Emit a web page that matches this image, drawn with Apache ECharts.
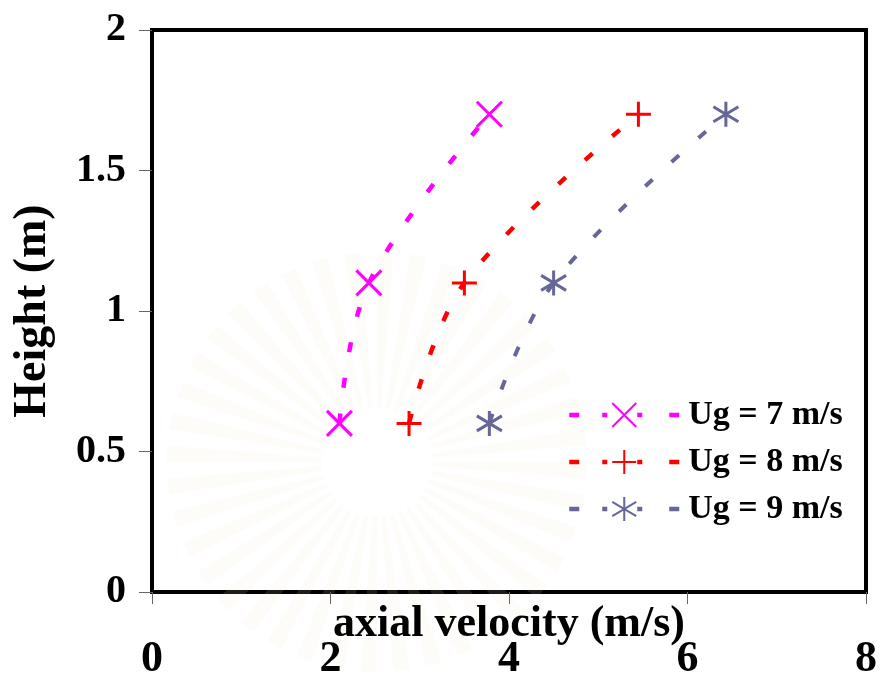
<!DOCTYPE html>
<html>
<head>
<meta charset="utf-8">
<script src="https://cdn.jsdelivr.net/npm/echarts@6/dist/echarts.min.js"></script>
<style>
  html, body { margin: 0; padding: 0; background: #fff; }
  #chart { width: 883px; height: 677px; }
</style>
</head>
<body>
<div id="chart"></div>
<script>
// Measured heights (m) and axial velocities (m/s) for each gas velocity
const heights = [0.6, 1.1, 1.7];
const velocityUg7 = [2.1, 2.43, 3.78];
const velocityUg8 = [2.88, 3.5, 5.45];
const velocityUg9 = [3.78, 4.5, 6.43];
const seriesNames = ['Ug = 7 m/s', 'Ug = 8 m/s', 'Ug = 9 m/s'];
const xTicks = [0, 2, 4, 6, 8];
const yTicks = [0, 0.5, 1, 1.5, 2];

const FONT = '"Liberation Serif", "Times New Roman", serif';

const SYM_X = 'path://M0,0L10,10M10,0L0,10';
const SYM_PLUS = 'path://M5,0L5,10M0,5L10,5';
const SYM_STAR = 'path://M5,0L5,10M0.7,2L9.3,8M9.3,2L0.7,8';

function pairs(xs) {
  return xs.map((v, i) => [v, heights[i]]);
}

function makeSeries(name, xs, color, symbol, width) {
  return {
    name: name,
    type: 'line',
    data: pairs(xs),
    smooth: 0.35,
    symbol: symbol,
    symbolSize: 25,
    showAllSymbol: true,
    z: 5,
    lineStyle: { color: color, width: width, type: [10, 26], cap: 'butt' },
    itemStyle: { color: color, borderColor: color, borderWidth: 3 }
  };
}

// faint sunburst emblem behind the plot
const rays = [];
const cx = 377, cy = 462;
const nRays = 40;
for (let i = 0; i < nRays; i++) {
  const a0 = (i / nRays) * Math.PI * 2;
  const a1 = a0 + (Math.PI * 2 / nRays) * 0.5;
  rays.push({
    type: 'sector',
    silent: true,
    shape: { cx: cx, cy: cy, r0: 55, r: 210, startAngle: a0, endAngle: a1 },
    style: { fill: 'rgba(240,232,205,0.12)' }
  });
}

const chart = echarts.init(document.getElementById('chart'), null, { renderer: 'canvas' });
chart.setOption({
  backgroundColor: '#fff',
  animation: false,
  graphic: [{ type: 'group', z: -10, silent: true, children: rays }],
  grid: {
    left: 152, right: 17, top: 30, bottom: 85,
    outerBoundsMode: 'none', containLabel: false,
    show: true, borderColor: '#000', borderWidth: 4, backgroundColor: 'transparent'
  },
  legend: {
    orient: 'vertical',
    left: 567, top: 398, padding: 0,
    itemWidth: 110, itemHeight: 30, itemGap: 13,
    data: seriesNames,
    lineStyle: { type: [10, 23, 5, 30, 5, 27, 10, 60], width: 4.5 },
    textStyle: { fontFamily: FONT, fontWeight: 'bold', fontSize: 34, color: '#000', padding: [0, 0, 0, 4] }
  },
  xAxis: {
    type: 'value', min: xTicks[0], max: xTicks[xTicks.length - 1], interval: 2,
    name: 'axial velocity (m/s)', nameLocation: 'middle', nameGap: 11, nameMoveOverlap: false,
    nameTextStyle: { fontFamily: FONT, fontWeight: 'bold', fontSize: 44, color: '#000' },
    axisLine: { show: false },
    axisTick: { show: true, length: 12, lineStyle: { color: '#666', width: 1 } },
    axisLabel: { margin: 46, fontFamily: FONT, fontWeight: 'bold', fontSize: 44, color: '#000' },
    splitLine: { show: false }
  },
  yAxis: {
    type: 'value', min: yTicks[0], max: yTicks[yTicks.length - 1], interval: 0.5,
    name: 'Height (m)', nameLocation: 'middle', nameGap: 96, nameRotate: 90, nameMoveOverlap: false,
    nameTextStyle: { fontFamily: FONT, fontWeight: 'bold', fontSize: 46, color: '#000' },
    axisLine: { show: false },
    axisTick: { show: true, length: 13, lineStyle: { color: '#666', width: 1 } },
    axisLabel: { margin: 26, fontFamily: FONT, fontWeight: 'bold', fontSize: 40, color: '#000' },
    splitLine: { show: false }
  },
  series: [
    makeSeries(seriesNames[0], velocityUg7, '#FF00FF', SYM_X, 4.5),
    makeSeries(seriesNames[1], velocityUg8, '#FF0000', SYM_PLUS, 4.5),
    makeSeries(seriesNames[2], velocityUg9, '#666699', SYM_STAR, 4)
  ]
});
</script>
</body>
</html>
